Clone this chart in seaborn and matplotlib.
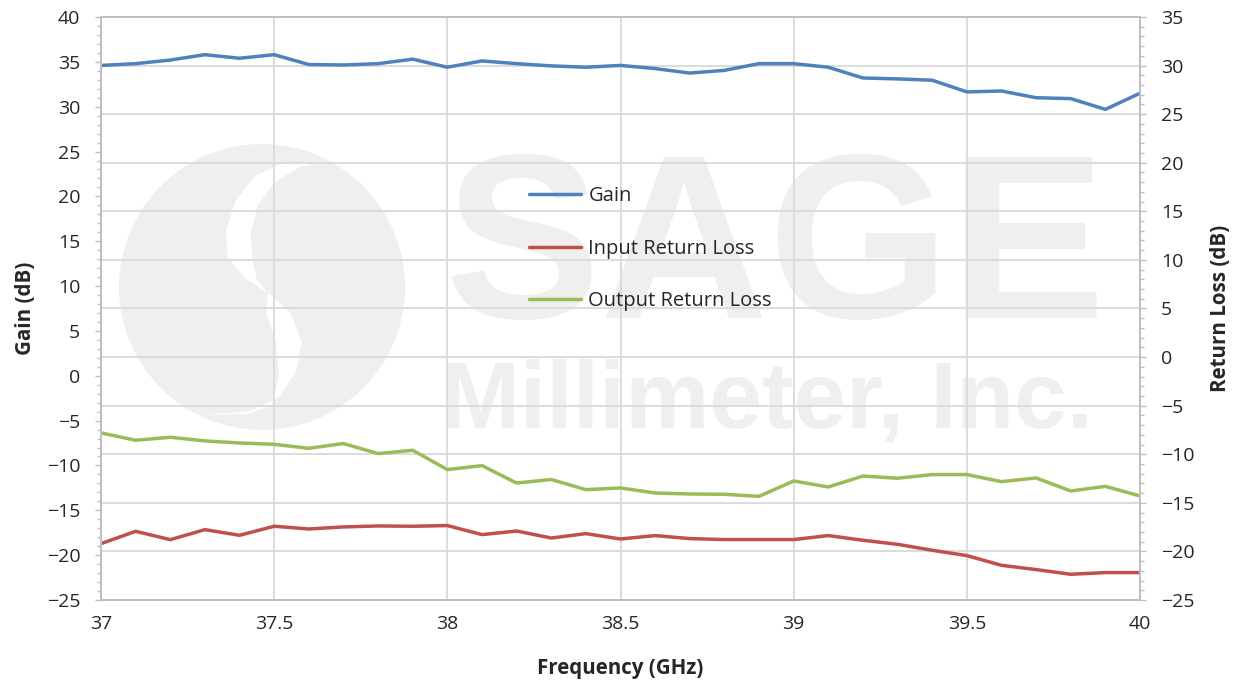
import numpy as np
import matplotlib
matplotlib.use("Agg")
import matplotlib.pyplot as plt
import seaborn as sns
from matplotlib.patches import Circle, Polygon
from matplotlib.transforms import Affine2D
from matplotlib.ticker import MultipleLocator, FuncFormatter

# frequency sweep, 0.1 GHz steps
freq_ghz = np.round(np.linspace(37.0, 40.0, 31), 1)

# gain on the left axis (dB)
gain_db = [34.6, 34.8, 35.2, 35.8, 35.4, 35.8, 34.7, 34.65, 34.8, 35.3,
           34.4, 35.1, 34.8, 34.55, 34.4, 34.6, 34.25, 33.75, 34.05, 34.8,
           34.8, 34.4, 33.2, 33.1, 32.95, 31.65, 31.75, 31.0, 30.9, 29.7, 31.5]

# return losses on the right axis (dB)
input_rl_db = [-19.2, -17.93, -18.79, -17.76, -18.34, -17.41, -17.69, -17.48, -17.38, -17.41,
               -17.34, -18.27, -17.9, -18.62, -18.17, -18.72, -18.37, -18.68, -18.78, -18.78,
               -18.78, -18.37, -18.85, -19.27, -19.88, -20.43, -21.43, -21.87, -22.35, -22.18, -22.18]
output_rl_db = [-7.8, -8.56, -8.25, -8.63, -8.84, -8.98, -9.39, -8.9, -9.93, -9.59,
                -11.58, -11.17, -12.96, -12.6, -13.64, -13.47, -13.99, -14.09, -14.12, -14.33,
                -12.75, -13.37, -12.24, -12.47, -12.09, -12.09, -12.82, -12.44, -13.78, -13.3, -14.29]

series_names = ["Gain", "Input Return Loss", "Output Return Loss"]
series_colors = ["#4f81bd", "#c0504d", "#9bbb59"]

sns.set_style("white")
plt.rcParams["font.family"] = ["Open Sans", "DejaVu Sans"]

W, H = 1241, 684
GRID = "#d9d9d9"
AXIS = "#bfbfbf"

fig = plt.figure(figsize=(W / 100, H / 100), dpi=100)
ax_gain = fig.add_axes([101 / W, 1 - 600 / H, 1039 / W, 583 / H])
ax_rl = ax_gain.twinx()

# right axis sits underneath and carries the grid + watermark
ax_gain.set_zorder(2)
ax_rl.set_zorder(1)
ax_gain.patch.set_visible(False)
ax_rl.patch.set_visible(True)
ax_rl.patch.set_facecolor("white")
ax_rl.xaxis.set_visible(True)

# watermark drawn in figure pixel coordinates (y down)
px = Affine2D().scale(1 / W, -1 / H).translate(0, 1) + fig.transFigure
wm = "#efefef"
ax_rl.add_patch(Circle((262, 287), 143, transform=px, color=wm, lw=0, zorder=0.2))
upper_gap = [(280, 164), (255, 176), (236, 200), (226, 230), (228, 258), (245, 278), (268, 293),
             (257, 280), (252, 258), (251, 232), (258, 205), (275, 182), (300, 167), (325, 161)]
lower_gap = [(268, 293), (290, 312), (302, 342), (296, 372), (278, 398), (250, 411), (205, 415),
             (248, 414), (272, 405), (279, 375), (276, 342), (266, 312)]
for pts in (upper_gap, lower_gap):
    ax_rl.add_patch(Polygon(pts, closed=True, transform=px, color="white", lw=0, zorder=0.3))
ax_rl.text(444, 318, "SAGE", transform=px, fontsize=168, fontweight="bold", color=wm,
           family="Liberation Sans", ha="left", va="baseline", zorder=0.2)
ax_rl.text(441, 427, "Millimeter, Inc.", transform=px, fontsize=68, fontweight="bold", color=wm,
           family="Liberation Sans", ha="left", va="baseline", zorder=0.2)

sns.lineplot(x=freq_ghz, y=gain_db, ax=ax_gain, color=series_colors[0], lw=2.5, legend=False)
sns.lineplot(x=freq_ghz, y=input_rl_db, ax=ax_rl, color=series_colors[1], lw=2.5, legend=False)
sns.lineplot(x=freq_ghz, y=output_rl_db, ax=ax_rl, color=series_colors[2], lw=2.5, legend=False)
for line in ax_gain.get_lines() + ax_rl.get_lines():
    line.set_solid_joinstyle("round")

ax_gain.set_xlim(37, 40)
ax_gain.set_ylim(-25, 40)
ax_rl.set_ylim(-25, 35)

ax_gain.xaxis.set_major_locator(MultipleLocator(0.5))
ax_gain.xaxis.set_minor_locator(MultipleLocator(0.1))
ax_gain.xaxis.set_major_formatter(FuncFormatter(lambda v, p: f"{v:g}"))
for a in (ax_gain, ax_rl):
    a.yaxis.set_major_locator(MultipleLocator(5))
    a.yaxis.set_minor_locator(MultipleLocator(1))
    for s in a.spines.values():
        s.set_color(AXIS)
        s.set_linewidth(1.3)

ax_rl.set_axisbelow(True)
ax_rl.grid(True, which="major", color=GRID, lw=1.3)
ax_gain.grid(False)

ax_gain.tick_params(axis="x", which="both", direction="in", color=AXIS, width=1,
                    labelsize=14, pad=11)
ax_gain.tick_params(axis="x", which="major", length=0)
ax_gain.tick_params(axis="x", which="minor", length=4)
ax_rl.tick_params(axis="x", which="both", bottom=False, top=False, labelbottom=False)

ax_gain.tick_params(axis="y", which="both", direction="out", color=AXIS, width=1,
                    labelsize=14, pad=10.5)
ax_gain.tick_params(axis="y", which="major", length=4.5)
ax_gain.tick_params(axis="y", which="minor", length=3)
ax_rl.tick_params(axis="y", which="both", direction="out", color=AXIS, width=1,
                  labelsize=14, pad=10.5)
ax_rl.tick_params(axis="y", which="major", length=4.5)
ax_rl.tick_params(axis="y", which="minor", length=3)

ax_gain.set_xlabel("Frequency (GHz)", fontsize=14.8, fontweight="bold")
ax_gain.set_ylabel("Gain (dB)", fontsize=14.8, fontweight="bold")
ax_rl.set_ylabel("Return Loss (dB)", fontsize=14.8, fontweight="bold")
ax_gain.xaxis.set_label_coords(0.5, -0.1)
ax_gain.yaxis.set_label_coords(-0.063, 0.5)
ax_rl.yaxis.set_label_coords(1.067, 0.5)

handles = ax_gain.get_lines() + ax_rl.get_lines()
ax_gain.legend(handles, series_names, loc="upper left", bbox_to_anchor=(529, 186),
               bbox_transform=px, frameon=False, fontsize=14.5, handlelength=2.6,
               handletextpad=0.35, labelspacing=1.62, borderpad=0, borderaxespad=0)

fig.savefig("out.png", dpi=100, facecolor="white")
